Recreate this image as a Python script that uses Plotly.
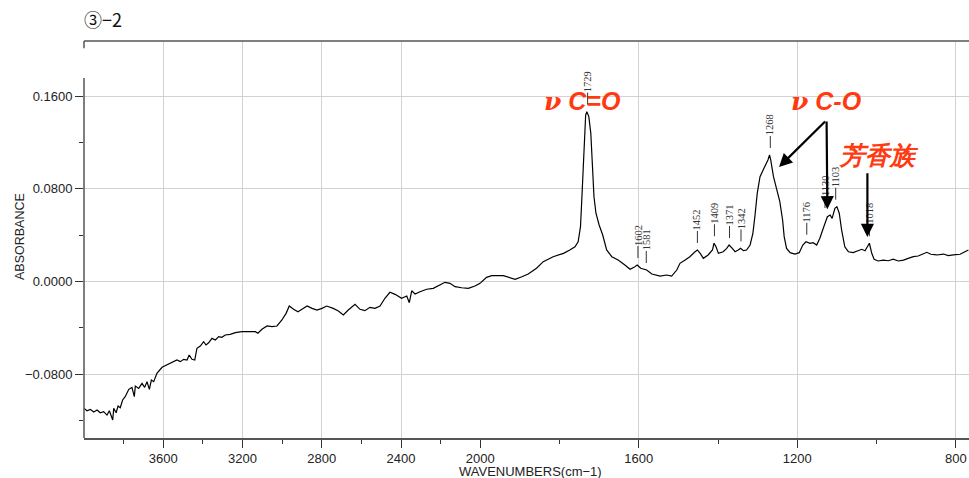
import plotly.graph_objects as go

# ---------------- data ----------------
title_text = "③−2"

wavenumbers = [
    4000, 3985, 3968, 3951, 3934, 3918, 3901, 3884, 3872, 3862, 3855, 3850,
    3838, 3828, 3817, 3805, 3792, 3774, 3758, 3746, 3741, 3724, 3707, 3694,
    3682, 3670, 3660, 3648, 3632, 3606, 3581, 3564, 3547, 3531, 3514, 3497,
    3480, 3469, 3455, 3441, 3430, 3413, 3396, 3384, 3371, 3354, 3337, 3320,
    3304, 3287, 3262, 3236, 3203, 3169, 3135, 3122, 3102, 3076, 3051, 3026,
    3001, 2980, 2964, 2942, 2920, 2900, 2874, 2849, 2824, 2799, 2775, 2742,
    2716, 2691, 2666, 2632, 2607, 2582, 2557, 2531, 2506, 2481, 2456, 2430,
    2397, 2371, 2358, 2346, 2329, 2304, 2270, 2237, 2203, 2178, 2153, 2127,
    2094, 2060, 2027, 2001,
    1984, 1971, 1942, 1925, 1912, 1895, 1879, 1858, 1841, 1816, 1790, 1774,
    1761, 1753, 1747, 1743, 1738, 1734, 1731, 1726, 1721, 1717, 1713, 1708,
    1700, 1691, 1681, 1668, 1652, 1635, 1622, 1612, 1604, 1595, 1587, 1580,
    1567, 1546, 1530, 1517, 1504, 1496, 1483, 1471, 1458, 1452, 1445, 1437,
    1425, 1414, 1410, 1405, 1399, 1387, 1378, 1372, 1364, 1357, 1349, 1343,
    1336, 1328, 1319, 1312, 1307, 1301, 1294, 1286, 1279, 1274, 1270, 1267,
    1260, 1252, 1244, 1237, 1233, 1227, 1218, 1206, 1195, 1186, 1178, 1168,
    1160, 1151, 1143, 1133, 1124, 1117, 1112, 1105, 1100, 1094, 1088, 1080,
    1071, 1059, 1046, 1037, 1029, 1021, 1018, 1012, 1006, 996, 983, 970,
    958, 945, 932, 920, 907, 895, 882, 873, 863, 848, 831, 819, 806, 789,
    777, 768,
]

absorbance = [
    -0.1094, -0.1115, -0.1103, -0.1126, -0.1109, -0.1132, -0.1123, -0.1152,
    -0.1115, -0.1166, -0.1195, -0.1094, -0.1132, -0.1074, -0.1089, -0.1022,
    -0.0993, -0.0930, -0.0913, -0.0993, -0.0902, -0.0922, -0.0879, -0.0913,
    -0.0864, -0.0930, -0.0850, -0.0864, -0.0792, -0.0740, -0.0720, -0.0705,
    -0.0691, -0.0677, -0.0691, -0.0671, -0.0677, -0.0634, -0.0671, -0.0677,
    -0.0576, -0.0556, -0.0519, -0.0547, -0.0528, -0.0490, -0.0504, -0.0475,
    -0.0481, -0.0461, -0.0455, -0.0441, -0.0432, -0.0432, -0.0432, -0.0446,
    -0.0412, -0.0383, -0.0389, -0.0383, -0.0331, -0.0274, -0.0211, -0.0239,
    -0.0260, -0.0239, -0.0211, -0.0231, -0.0246, -0.0231, -0.0211, -0.0231,
    -0.0254, -0.0288, -0.0245, -0.0196, -0.0239, -0.0251, -0.0222, -0.0231,
    -0.0211, -0.0144, -0.0092, -0.0110, -0.0144, -0.0124, -0.0182, -0.0079,
    -0.0107, -0.0087, -0.0066, -0.0058, -0.0029, -0.0006, -0.0015, -0.0044,
    -0.0053, -0.0058, -0.0038, -0.0015,
    0.0037, 0.0051, 0.0051, 0.0037, 0.0020, 0.0042, 0.0066, 0.0115, 0.0172,
    0.0215, 0.0244, 0.0273, 0.0301, 0.0344, 0.0474, 0.0762, 0.1194, 0.1438,
    0.1467, 0.1424, 0.1280, 0.0963, 0.0733, 0.0590, 0.0489, 0.0402, 0.0273,
    0.0215, 0.0186, 0.0143, 0.0106, 0.0123, 0.0143, 0.0115, 0.0106, 0.0100,
    0.0066, 0.0048, 0.0057, 0.0048, 0.0100, 0.0158, 0.0186, 0.0215, 0.0258,
    0.0273, 0.0244, 0.0201, 0.0230, 0.0273, 0.0331, 0.0301, 0.0244, 0.0258,
    0.0287, 0.0316, 0.0287, 0.0258, 0.0273, 0.0287, 0.0267, 0.0273, 0.0316,
    0.0417, 0.0560, 0.0762, 0.0906, 0.0963, 0.1007, 0.1050, 0.1093, 0.1050,
    0.0906, 0.0791, 0.0690, 0.0532, 0.0388, 0.0287, 0.0250, 0.0238, 0.0250,
    0.0316, 0.0344, 0.0331, 0.0336, 0.0316, 0.0374, 0.0474, 0.0560, 0.0575,
    0.0546, 0.0633, 0.0647, 0.0590, 0.0445, 0.0301, 0.0258, 0.0250, 0.0267,
    0.0279, 0.0267, 0.0316, 0.0331, 0.0244, 0.0193, 0.0178, 0.0186, 0.0180,
    0.0193, 0.0178, 0.0186, 0.0201, 0.0215, 0.0221, 0.0238, 0.0253, 0.0236,
    0.0230, 0.0238, 0.0224, 0.0230, 0.0236, 0.0258, 0.0273,
]

x_major_left = [3600, 3200, 2800, 2400, 2000]
x_major_right = [1600, 1200, 800]
x_minor_left = [3800, 3400, 3000, 2600, 2200]
x_minor_right = [1800, 1400, 1000]
y_major = [0.16, 0.08, 0.0, -0.08]
y_major_text = ["0.1600", "0.0800", "0.0000", "−0.0800"]
y_minor = [0.12, 0.04, -0.04, -0.12]

peak_wn = [1729, 1602, 1581, 1452, 1409, 1371, 1342, 1268, 1176, 1130, 1103, 1018]
peak_abs = [0.1467, 0.0143, 0.0100, 0.0273, 0.0331, 0.0316, 0.0287, 0.1093,
            0.0344, 0.0575, 0.0647, 0.0331]

band_text = ['<span style="font-family:DejaVu Serif">ν</span> C=O',
             '<span style="font-family:DejaVu Serif">ν</span> C-O',
             '芳香族']
band_wn = [1741, 1126, 994]
band_abs = [0.1553, 0.1553, 0.1093]

# arrows: (tail wn, tail abs) -> (tip wn, tip abs)
arrow_tail_wn = [1126, 1126, 1023]
arrow_tail_abs = [0.1395, 0.1395, 0.0949]
arrow_tip_wn = [1246, 1124, 1023]
arrow_tip_abs = [0.0989, 0.0624, 0.0385]

# ---------------- figure ----------------
RED = "#ff3a10"
AXIS = "#555555"
GRID = "#d2d2d2"
Y_RANGE = [-0.1350, 0.2077]
SPLIT = 0.44774

fig = go.Figure()
line_style = dict(color="black", width=1.2)
fig.add_trace(go.Scatter(x=wavenumbers, y=absorbance, mode="lines",
                         line=line_style, xaxis="x", yaxis="y",
                         showlegend=False, hoverinfo="skip"))
fig.add_trace(go.Scatter(x=wavenumbers, y=absorbance, mode="lines",
                         line=line_style, xaxis="x2", yaxis="y",
                         showlegend=False, hoverinfo="skip"))

tickfont = dict(family="Liberation Sans, Arial", size=13, color="#222")
common_x = dict(showline=True, linecolor=AXIS, linewidth=1.5,
                ticks="outside", ticklen=8, tickwidth=1, tickcolor="#333",
                showgrid=True, gridcolor=GRID, gridwidth=1, zeroline=False,
                tickfont=tickfont, fixedrange=True, automargin=False)

fig.update_layout(
    width=969, height=478, autosize=False,
    margin=dict(l=84, r=0, t=41, b=40, autoexpand=False),
    paper_bgcolor="white", plot_bgcolor="white",
    title=dict(text=title_text, xref="container", x=84 / 969, xanchor="left",
               yref="container", y=1 - 20.5 / 478, yanchor="middle",
               font=dict(family="Noto Sans CJK JP", size=18, color="#111")),
    xaxis=dict(domain=[0, SPLIT], range=[4000, 2000], anchor="y",
               tickmode="array", tickvals=x_major_left,
               ticktext=[str(v) for v in x_major_left],
               minor=dict(tickmode="array", tickvals=x_minor_left,
                          ticks="outside", ticklen=4, tickcolor="#333",
                          showgrid=False),
               **common_x),
    xaxis2=dict(domain=[SPLIT, 1], range=[2000, 766.6], anchor="y",
                tickmode="array", tickvals=x_major_right,
                ticktext=[str(v) for v in x_major_right],
                minor=dict(tickmode="array", tickvals=x_minor_right,
                           ticks="outside", ticklen=4, tickcolor="#333",
                           showgrid=False),
                **common_x),
    yaxis=dict(range=Y_RANGE, anchor="x", showline=False, zeroline=False,
               tickmode="array", tickvals=y_major, ticktext=y_major_text,
               ticks="outside", ticklen=8, tickwidth=1, tickcolor="#333",
               minor=dict(tickmode="array", tickvals=y_minor,
                          ticks="outside", ticklen=4, tickcolor="#333",
                          showgrid=False),
               showgrid=True, gridcolor=GRID, gridwidth=1, automargin=False,
               tickfont=tickfont, fixedrange=True),
)

shapes = []
# left axis line (with the small gap near the top) and top frame line
shapes.append(dict(type="line", xref="paper", yref="y", x0=0, x1=0,
                   y0=Y_RANGE[0], y1=0.1758, line=dict(color=AXIS, width=1.5)))
shapes.append(dict(type="line", xref="paper", yref="y", x0=0, x1=0,
                   y0=0.2014, y1=Y_RANGE[1], line=dict(color=AXIS, width=1.5)))
shapes.append(dict(type="line", xref="paper", yref="paper", x0=0, x1=1,
                   y0=1, y1=1, line=dict(color=AXIS, width=1.5)))
# peak label tick marks
for wn, ab in zip(peak_wn, peak_abs):
    shapes.append(dict(type="line", xref="x2", yref="y", x0=wn, x1=wn,
                       ysizemode="pixel", yanchor=ab, y0=7, y1=19,
                       line=dict(color="#333", width=1)))
fig.update_layout(shapes=shapes)

annotations = []
for wn, ab in zip(peak_wn, peak_abs):
    annotations.append(dict(x=wn, y=ab, xref="x2", yref="y", text=str(wn),
                            showarrow=False, textangle=-90, yshift=30,
                            xanchor="center", yanchor="middle",
                            font=dict(family="Liberation Serif", size=10.5,
                                      color="#333")))
for t, wn, ab in zip(band_text, band_wn, band_abs):
    annotations.append(dict(x=wn, y=ab, xref="x2", yref="y", text=t,
                            showarrow=False, xanchor="center", yanchor="middle",
                            font=dict(family="Liberation Sans, Arial", size=25,
                                      color=RED, weight="bold", style="italic")))
for twn, tab, hwn, hab in zip(arrow_tail_wn, arrow_tail_abs, arrow_tip_wn, arrow_tip_abs):
    annotations.append(dict(x=hwn, y=hab, xref="x2", yref="y",
                            ax=twn, ay=tab, axref="x2", ayref="y", text="",
                            showarrow=True, arrowhead=2, arrowsize=1.2,
                            arrowwidth=2.2, arrowcolor="black"))
# axis titles
annotations.append(dict(x=(20 - 84) / 885, y=0.0385, xref="paper", yref="y",
                        text="ABSORBANCE", textangle=-90, showarrow=False,
                        xanchor="center", yanchor="middle",
                        font=dict(family="Liberation Sans, Arial", size=12.5,
                                  color="#222")))
annotations.append(dict(x=(530 - 84) / 885, y=-(471.5 - 438) / 397, xref="paper",
                        yref="paper", text="WAVENUMBERS(cm−1)", showarrow=False,
                        xanchor="center", yanchor="middle",
                        font=dict(family="Liberation Sans, Arial", size=13,
                                  color="#222")))
fig.update_layout(annotations=annotations)

fig.write_html("out.html",
               config={"responsive": False, "displayModeBar": False,
                       "staticPlot": True},
               post_script="document.body.style.margin='0';"
                           "document.body.style.overflow='hidden';")
